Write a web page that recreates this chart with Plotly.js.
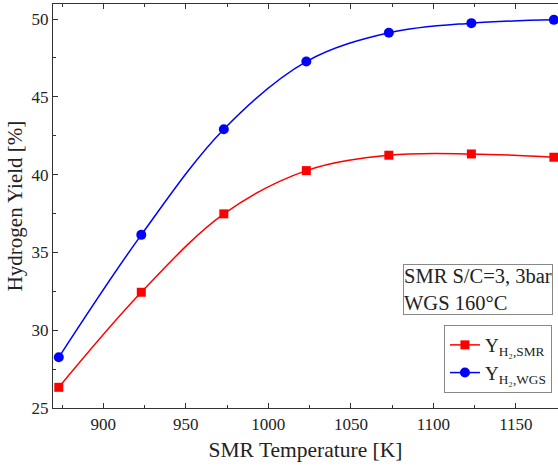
<!DOCTYPE html>
<html>
<head>
<meta charset="utf-8">
<script src="https://cdn.plot.ly/plotly-3.0.1.min.js"></script>
<style>html,body{margin:0;padding:0;background:#fff}</style>
</head>
<body>
<div id="chart" style="width:558px;height:466px"></div>
<script>
const temperatures = [873, 923, 973, 1023, 1073, 1123, 1173];
const yieldSMR = [26.33, 32.44, 37.48, 40.26, 41.25, 41.33, 41.12];
const yieldWGS = [28.26, 36.13, 42.92, 47.27, 49.12, 49.74, 49.95];
const seriesNames = ['Y<sub>H\u2082,SMR</sub>', 'Y<sub>H\u2082,WGS</sub>'];
const conditionText = 'SMR S/C=3, 3bar<br>WGS 160\u00b0C';

const serif = 'Liberation Serif, Times New Roman, serif';
const traces = [
  {x: temperatures, y: yieldSMR, name: seriesNames[0], type: 'scatter', mode: 'lines+markers',
   line: {color: '#ff0000', width: 1.5, shape: 'spline', smoothing: 1},
   marker: {symbol: 'square', size: 9, color: '#ff0000'}},
  {x: temperatures, y: yieldWGS, name: seriesNames[1], type: 'scatter', mode: 'lines+markers',
   line: {color: '#0000ff', width: 1.5, shape: 'spline', smoothing: 1},
   marker: {symbol: 'circle', size: 10, color: '#0000ff'}}
];
const axisCommon = {
  showgrid: false, zeroline: false, showline: true, linecolor: '#333', linewidth: 1.2,
  ticks: 'inside', ticklen: 5, tickcolor: '#333', tickwidth: 1,
  tickfont: {family: serif, size: 17, color: '#222'}
};
const layout = {
  width: 558, height: 466,
  margin: {l: 53, r: 0, t: 4, b: 58},
  paper_bgcolor: '#fff', plot_bgcolor: '#fff',
  showlegend: true,
  xaxis: Object.assign({}, axisCommon, {
    range: [869.5, 1175.5], tick0: 900, dtick: 50, mirror: 'ticks',
    minor: {dtick: 25, tick0: 875, ticks: 'inside', ticklen: 3, tickcolor: '#333'},
    title: {text: 'SMR Temperature [K]', font: {family: serif, size: 21.5, color: '#222'}, standoff: 9}
  }),
  yaxis: Object.assign({}, axisCommon, {
    range: [25, 50.97], tick0: 25, dtick: 5,
    minor: {dtick: 2.5, ticks: 'inside', ticklen: 3, tickcolor: '#333'},
    title: {text: 'Hydrogen Yield [%]', font: {family: serif, size: 21, color: '#222'}, standoff: 3}
  }),
  legend: {
    x: 0.988, xanchor: 'right', y: 0.2054, yanchor: 'top',
    bgcolor: '#fff', bordercolor: '#888', borderwidth: 1,
    font: {family: serif, size: 19, color: '#222'},
    tracegroupgap: 0
  },
  annotations: [{
    xref: 'paper', yref: 'paper', x: 0.990, y: 0.356, xanchor: 'right', yanchor: 'top',
    text: conditionText, showarrow: false, align: 'left',
    font: {family: serif, size: 20.5, color: '#222'},
    bordercolor: '#888', borderwidth: 1, borderpad: 0, bgcolor: '#fff'
  }]
};
Plotly.newPlot('chart', traces, layout, {displayModeBar: false, staticPlot: true});
</script>
</body>
</html>
